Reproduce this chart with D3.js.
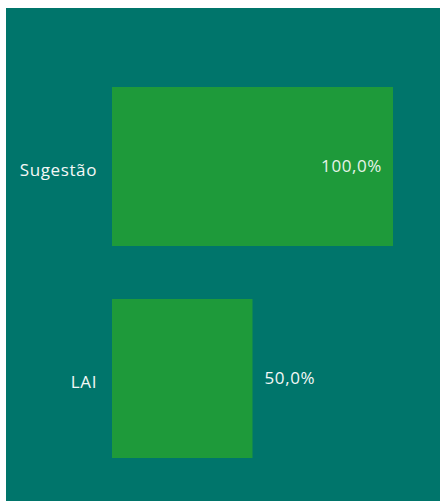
<!DOCTYPE html>
<html>
<head>
<meta charset="utf-8">
<script src="https://cdn.jsdelivr.net/npm/d3@7"></script>
<style>
  body { margin: 0; background: #ffffff; }
  svg text { font-family: "Open Sans", "Noto Sans", sans-serif; font-weight: 500; letter-spacing: 0.6px; }
</style>
</head>
<body>
<svg id="chart" width="441" height="501"></svg>
<script>
// data
var categories = ["Sugestão", "LAI"];
var values = [1.0, 0.5];

var svg = d3.select("#chart");

/// panel background
svg.append("rect")
    .attr("x", 6).attr("y", 8)
    .attr("width", 434).attr("height", 493)
    .attr("fill", "#00756b");

var y = d3.scaleBand()
    .domain(categories)
    .range([34, 511])
    .paddingInner(0.25)
    .paddingOuter(0.25);

var x = d3.scaleLinear()
    .domain([0, 1])
    .range([112, 393]);

var fmt = function(v){ return d3.format(".1f")(v * 100).replace(".", ",") + "%"; };

var rows = categories.map(function(c, i){ return {cat: c, val: values[i]}; });

/// bars
svg.selectAll(".bar")
    .data(rows)
  .enter().append("rect")
    .attr("class", "bar")
    .attr("x", x(0))
    .attr("y", function(d){ return y(d.cat); })
    .attr("width", function(d){ return x(d.val) - x(0); })
    .attr("height", y.bandwidth())
    .attr("fill", "#1e9a3a");

/// category labels
svg.selectAll(".cat")
    .data(rows)
  .enter().append("text")
    .attr("class", "cat")
    .attr("x", x(0) - 15)
    .attr("y", function(d){ return y(d.cat) + y.bandwidth() / 2 + 9; })
    .attr("text-anchor", "end")
    .attr("fill", "#f4f8f7")
    .style("font-size", "17px")
    .text(function(d){ return d.cat; });

/// value labels: inside the bar if there is room, else after it
svg.selectAll(".val")
    .data(rows)
  .enter().append("text")
    .attr("class", "val")
    .attr("x", function(d){ return d.val > 0.75 ? x(d.val) - 11 : x(d.val) + 12; })
    .attr("y", function(d){ return y(d.cat) + y.bandwidth() / 2 + 5; })
    .attr("text-anchor", function(d){ return d.val > 0.75 ? "end" : "start"; })
    .attr("fill", function(d){ return d.val > 0.75 ? "#e6f4e8" : "#f4f8f7"; })
    .style("font-size", "17px")
    .text(function(d){ return fmt(d.val); });
</script>
</body>
</html>
